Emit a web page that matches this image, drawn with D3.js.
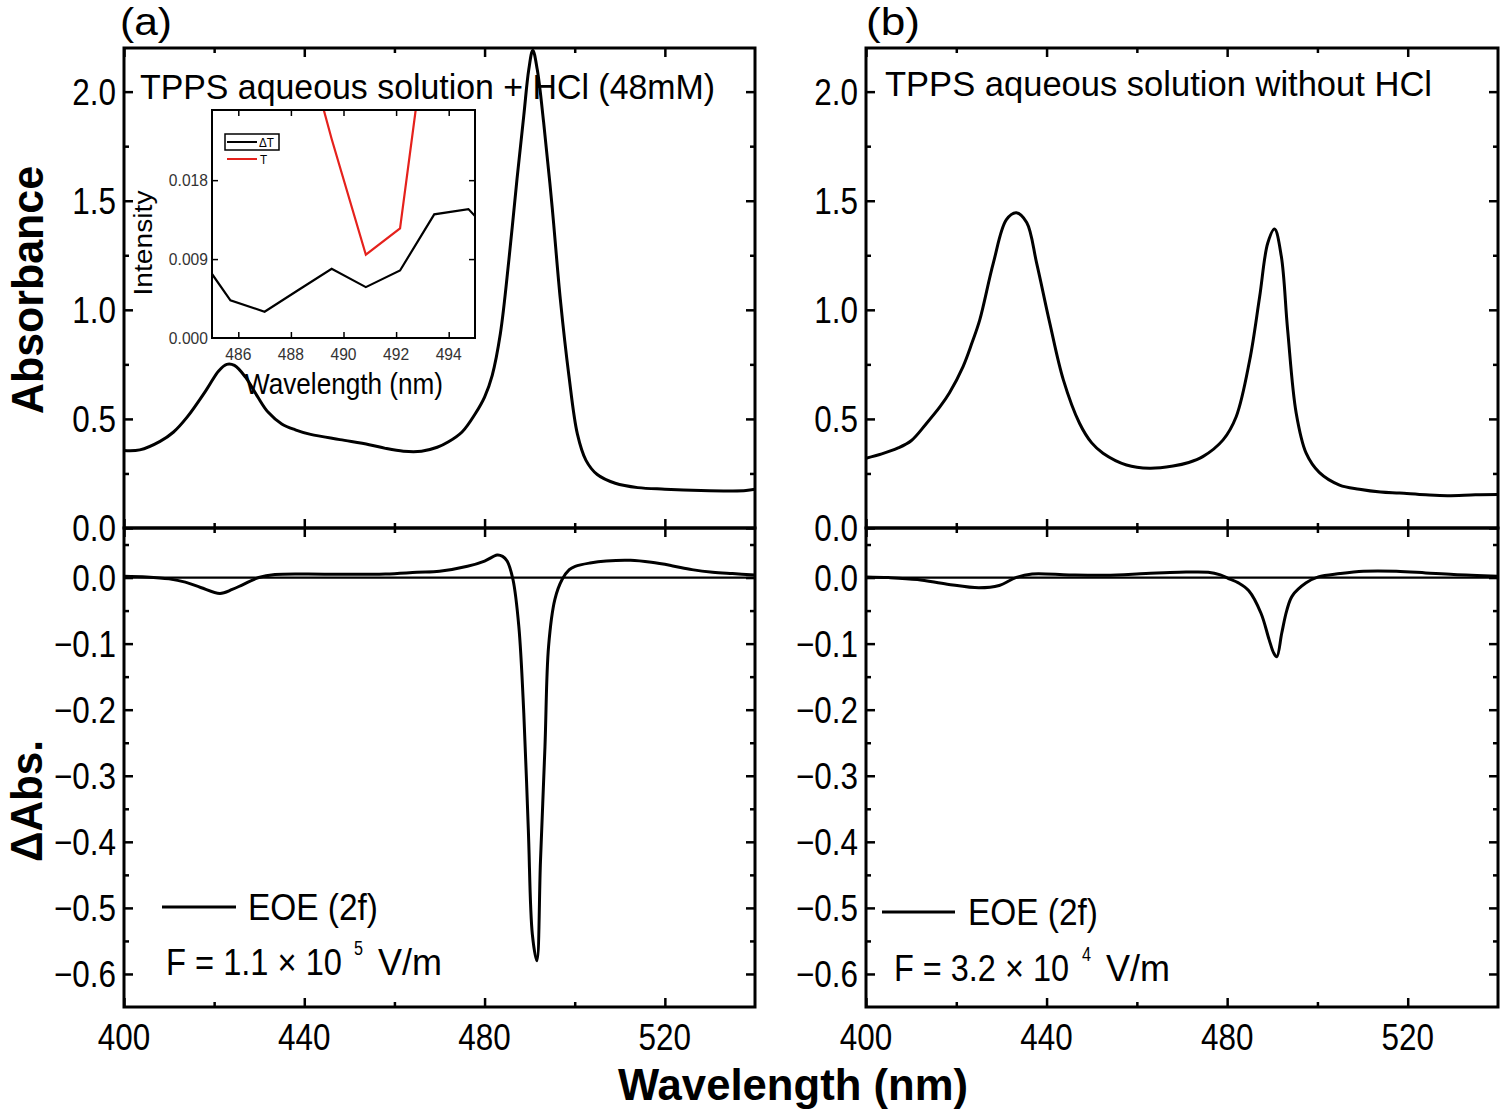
<!DOCTYPE html>
<html>
<head>
<meta charset="utf-8">
<title>TPPS absorbance and EOE spectra</title>
<script src="https://cdn.jsdelivr.net/npm/d3@7"></script>
<style>
  body { margin: 0; background: #fff; }
  text { font-family: "Liberation Sans", Arial, sans-serif; fill: #000; }
</style>
</head>
<body>
<svg id="fig" width="1500" height="1112"></svg>
<script>
// ---- data: [wavelength nm, value] ----
const absHCl = [[400,0.355],[403.5,0.358],[408,0.397],[411,0.44],[414,0.508],[418.3,0.634],[421,0.72],[422.8,0.75],[424.5,0.745],[427,0.69],[429.6,0.603],[432,0.53],[435,0.477],[438,0.45],[441.4,0.429],[447.9,0.405],[454.4,0.382],[458,0.365],[462,0.352],[466,0.352],[469.5,0.37],[472,0.395],[475,0.44],[478,0.526],[480,0.6],[481.7,0.7],[483.5,0.89],[485.4,1.23],[487.2,1.6],[488.7,1.89],[489.8,2.1],[490.7,2.19],[491.7,2.1],[493.1,1.86],[495,1.47],[496.8,1.05],[498.7,0.7],[500.6,0.43],[502.5,0.31],[505,0.245],[509,0.205],[514,0.185],[520,0.178],[528,0.172],[535,0.17],[538,0.172],[540,0.178]];
const eoeHCl = [[400,0.002],[405,0.001],[410,-0.002],[413.6,-0.007],[417,-0.015],[421.3,-0.024],[424,-0.018],[426.3,-0.011],[429.9,0],[433.5,0.0045],[445,0.005],[458,0.0055],[465,0.008],[470,0.0095],[476.2,0.017],[480,0.025],[482.8,0.034],[484,0.032],[485,0.025],[486.3,-0.003],[487.6,-0.074],[488.7,-0.205],[489.7,-0.38],[490.6,-0.54],[491.6,-0.58],[492.4,-0.43],[493.4,-0.256],[494.2,-0.104],[495.6,-0.033],[497.2,-0.003],[498.8,0.012],[500.1,0.017],[503.4,0.022],[507,0.025],[512.4,0.026],[517,0.023],[521.5,0.018],[526,0.012],[530.6,0.008],[535,0.006],[540,0.004]];
const absFree = [[400,0.32],[403.5,0.34],[407,0.366],[410,0.4],[413.3,0.477],[416.4,0.556],[418.5,0.62],[421.5,0.74],[423.5,0.85],[425.2,0.954],[428.2,1.214],[431.1,1.413],[433.3,1.445],[435.6,1.4],[437.8,1.214],[440.7,0.94],[443.7,0.68],[447.3,0.48],[450,0.39],[452.5,0.343],[457.7,0.289],[462.8,0.274],[468,0.284],[471.5,0.3],[474.6,0.327],[479.1,0.404],[482,0.51],[485,0.77],[487.2,1.06],[489,1.306],[490.5,1.37],[492,1.245],[493.4,0.908],[495.3,0.526],[497.5,0.343],[500.4,0.255],[504.9,0.197],[509.3,0.178],[514,0.165],[518.2,0.16],[524,0.152],[528.8,0.148],[535,0.152],[540,0.153]];
const eoeFree = [[400,0.001],[405,0],[411.4,-0.003],[418,-0.01],[425,-0.0155],[429.5,-0.012],[433.2,0],[436.8,0.0055],[445,0.004],[453.1,0.0035],[462,0.006],[469.4,0.008],[475.8,0.008],[478.5,0.004],[480.3,-0.0015],[482.5,-0.008],[484.8,-0.02],[487.5,-0.054],[489.3,-0.094],[490.3,-0.114],[491,-0.12],[492.1,-0.084],[493.2,-0.05],[494.4,-0.028],[497.5,-0.008],[500.2,0.001],[505,0.006],[510.2,0.0095],[517.5,0.0095],[524,0.007],[530.2,0.0045],[540,0.002]];

// inset (Intensity vs wavelength)
const insetDT = [[485,0.0073],[485.7,0.0043],[487,0.003],[488.3,0.0055],[489.55,0.0079],[490.85,0.0058],[492.15,0.0077],[493.45,0.0141],[494.75,0.0147],[495,0.0139]];
const insetT = [[485.7,0.05],[487,0.046],[488.25,0.037],[489.55,0.0227],[490.85,0.0095],[492.15,0.0125],[493.45,0.042],[494.75,0.05]];

// ticks
const xMajor = [400, 440, 480, 520];
const xMinor = [420, 460, 500];
const absMajor = [0, 0.5, 1.0, 1.5, 2.0];
const absMinor = [0.25, 0.75, 1.25, 1.75];
const dAbsMajor = [0, -0.1, -0.2, -0.3, -0.4, -0.5, -0.6];
const dAbsMinor = [0.05, -0.05, -0.15, -0.25, -0.35, -0.45, -0.55];
const insetXTicks = [486, 488, 490, 492, 494];
const insetYTicks = [0, 0.009, 0.018];

const svg = d3.select("#fig");
const fmt1 = v => (v < 0 ? "\u2212" : "") + Math.abs(v).toFixed(1);

// narrow text helper (the original uses a condensed font)
function txt(g, x, y, s, o = {}) {
  const t = g.append("text")
    .attr("transform", `translate(${x},${y})` + (o.rot ? ` rotate(${o.rot})` : "") + ` scale(${o.sx || 0.85},1)`)
    .attr("text-anchor", o.anchor || "start")
    .attr("font-size", o.size || 37)
    .attr("font-weight", o.bold ? "bold" : null)
    .style("fill", o.fill || "#000")
    .text(s);
  if (o.len) t.attr("textLength", o.len / (o.sx || 0.85)).attr("lengthAdjust", "spacingAndGlyphs");
  return t;
}

function ticks(g, x, y, xs, ys, len, sw) {
  const [x0, x1] = x.range(), [y1, y0] = y.range();
  const clean = s => { s.select(".domain").remove(); s.selectAll("text").remove(); s.selectAll("line").attr("stroke", "#000").attr("stroke-width", sw); };
  g.append("g").attr("transform", `translate(0,${y1})`).call(d3.axisBottom(x).tickValues(xs).tickSize(-len)).call(clean);
  g.append("g").attr("transform", `translate(0,${y0})`).call(d3.axisTop(x).tickValues(xs).tickSize(-len)).call(clean);
  g.append("g").attr("transform", `translate(${x0},0)`).call(d3.axisLeft(y).tickValues(ys).tickSize(-len)).call(clean);
  g.append("g").attr("transform", `translate(${x1},0)`).call(d3.axisRight(y).tickValues(ys).tickSize(-len)).call(clean);
}

let clipId = 0;
function panel(x0, x1, y0, y1, yDom, major, minor, series, zeroLine) {
  const x = d3.scaleLinear().domain([400, 540]).range([x0, x1]);
  const y = d3.scaleLinear().domain(yDom).range([y1, y0]);
  const g = svg.append("g");
  const id = "clip" + (clipId++);
  g.append("clipPath").attr("id", id).append("rect").attr("x", x0).attr("y", y0).attr("width", x1 - x0).attr("height", y1 - y0);
  ticks(g, x, y, xMajor, major, 9, 2.5);
  ticks(g, x, y, xMinor, minor, 5, 2.5);
  if (zeroLine) g.append("line").attr("x1", x0).attr("x2", x1).attr("y1", y(0)).attr("y2", y(0)).attr("stroke", "#000").attr("stroke-width", 2.2);
  const line = d3.line().x(d => x(d[0])).y(d => y(d[1])).curve(d3.curveCatmullRom.alpha(0.5));
  g.append("path").datum(series).attr("clip-path", `url(#${id})`).attr("d", line)
    .attr("fill", "none").attr("stroke", "#000").attr("stroke-width", 3).attr("stroke-linejoin", "round");
  g.append("rect").attr("x", x0).attr("y", y0).attr("width", x1 - x0).attr("height", y1 - y0)
    .attr("fill", "none").attr("stroke", "#000").attr("stroke-width", 3);
  major.forEach(v => txt(g, x0 - 8, y(v) + 13, fmt1(v), { anchor: "end" }));
  return { x, y, g };
}

const X0L = 124, X1L = 755, X0R = 866, X1R = 1498;
const YT = 48, YM = 528, YB = 1007;

const pa = panel(X0L, X1L, YT, YM, [0, 2.2], absMajor, absMinor, absHCl, false);
const pc = panel(X0L, X1L, YM, YB, [-0.65, 0.075], dAbsMajor, dAbsMinor, eoeHCl, true);
const pb = panel(X0R, X1R, YT, YM, [0, 2.2], absMajor, absMinor, absFree, false);
const pd = panel(X0R, X1R, YM, YB, [-0.65, 0.075], dAbsMajor, dAbsMinor, eoeFree, true);

// x tick labels
[pc, pd].forEach(p => xMajor.forEach(v => txt(svg, p.x(v), 1050, String(v), { anchor: "middle" })));

// axis titles
txt(svg, 43, 290, "Absorbance", { rot: -90, anchor: "middle", size: 44, bold: true, sx: 1, len: 248 });
txt(svg, 42, 801, "\u0394Abs.", { rot: -90, anchor: "middle", size: 44, bold: true, sx: 1, len: 122 });
txt(svg, 793, 1100, "Wavelength (nm)", { anchor: "middle", size: 45, bold: true, sx: 1, len: 350 });

// panel labels and titles
txt(svg, 120, 35, "(a)", { size: 38, len: 52 });
txt(svg, 866, 35, "(b)", { size: 38, len: 54 });
txt(svg, 140, 99, "TPPS aqueous solution + HCl (48mM)", { size: 36, len: 575 });
txt(svg, 885, 96, "TPPS aqueous solution without HCl", { size: 36, len: 547 });

// legends
function legend(lx0, lx1, ly, tx, tbase, fx, fbase, lead, lw, exp, ex, vx) {
  svg.append("line").attr("x1", lx0).attr("x2", lx1).attr("y1", ly).attr("y2", ly).attr("stroke", "#000").attr("stroke-width", 3);
  txt(svg, tx, tbase, "EOE (2f)", { size: 37, len: 130 });
  txt(svg, fx, fbase, lead, { size: 37, len: lw });
  txt(svg, ex, fbase - 20, exp, { size: 21, len: 9 });
  txt(svg, vx, fbase, "V/m", { size: 37, len: 64 });
}
legend(162, 236, 907, 248, 920, 166, 975, "F = 1.1 \u00d7 10", 176, "5", 354, 378);
legend(882, 955, 912, 968, 925, 894, 981, "F = 3.2 \u00d7 10", 175, "4", 1082, 1106);

// ---- inset ----
const ix = d3.scaleLinear().domain([485, 495]).range([212, 475]);
const iy = d3.scaleLinear().domain([0, 0.026]).range([338, 110]);
const ig = svg.append("g");
ig.append("rect").attr("x", 212).attr("y", 110).attr("width", 263).attr("height", 228).attr("fill", "#fff");
ig.append("clipPath").attr("id", "iclip").append("rect").attr("x", 212).attr("y", 110).attr("width", 263).attr("height", 228);
ticks(ig, ix, iy, insetXTicks, insetYTicks.slice(1), 6, 1.5);
const iline = d3.line().x(d => ix(d[0])).y(d => iy(d[1]));
ig.append("path").datum(insetT).attr("clip-path", "url(#iclip)").attr("d", iline)
  .attr("fill", "none").attr("stroke", "#e5211c").attr("stroke-width", 2.2);
ig.append("path").datum(insetDT).attr("clip-path", "url(#iclip)").attr("d", iline)
  .attr("fill", "none").attr("stroke", "#000").attr("stroke-width", 2.2);
ig.append("rect").attr("x", 212).attr("y", 110).attr("width", 263).attr("height", 228)
  .attr("fill", "none").attr("stroke", "#000").attr("stroke-width", 2);
insetYTicks.forEach(v => txt(ig, 208, iy(v) + 6, v.toFixed(3), { size: 17, anchor: "end", sx: 0.92, fill: "#333" }));
insetXTicks.forEach(v => txt(ig, ix(v), 360, String(v), { size: 17, anchor: "middle", sx: 0.92, fill: "#333" }));
txt(ig, 152, 243, "Intensity", { rot: -90, anchor: "middle", size: 25, len: 105 });
txt(ig, 245, 394, "Wavelength (nm)", { size: 29, len: 198 });
// inset legend
ig.append("rect").attr("x", 225).attr("y", 134).attr("width", 54).attr("height", 16).attr("fill", "none").attr("stroke", "#000").attr("stroke-width", 1.5);
ig.append("line").attr("x1", 227).attr("x2", 257).attr("y1", 142).attr("y2", 142).attr("stroke", "#000").attr("stroke-width", 2);
txt(ig, 259, 147, "\u0394T", { size: 13, sx: 0.9 });
ig.append("line").attr("x1", 227).attr("x2", 257).attr("y1", 159).attr("y2", 159).attr("stroke", "#e5211c").attr("stroke-width", 2);
txt(ig, 260, 164, "T", { size: 13, sx: 0.9 });
</script>
</body>
</html>
